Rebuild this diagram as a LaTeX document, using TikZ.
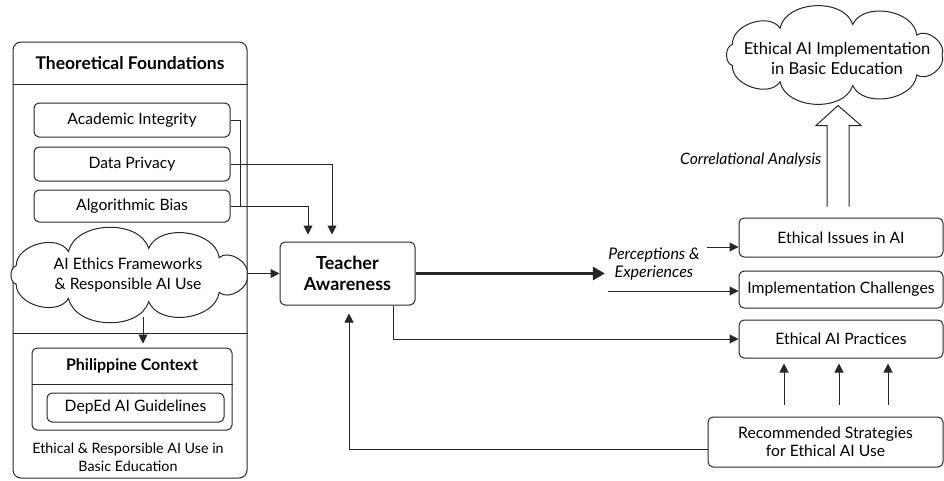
\documentclass[tikz,border=0pt]{standalone}
\usepackage{fontspec}
\setmainfont{Lato}
\usetikzlibrary{arrows.meta,calc}
\newcommand\puffcloud[5]{% cx, cy, rx, ry, n
  \draw[ln, fill=white] ({#1+#3},{#2})
    \foreach \i in {1,...,#5} { to[bend left=75] ({#1+#3*cos(360*\i/#5)},{#2+#4*sin(360*\i/#5)}) } -- cycle;
}
\begin{document}
\begin{tikzpicture}[x=1pt,y=-1pt,
  font=\fontsize{15.7}{18}\selectfont,
  box/.style={draw=black!85, line width=1pt, rounded corners=5pt, align=center, inner sep=0pt},
  arr/.style={line width=1pt, draw=black!85, -{Triangle[length=9pt,width=9pt]}},
  ln/.style={line width=1pt, draw=black!85},
  cloudtext/.style={align=center, inner sep=0pt}
]
\useasboundingbox (0,0) rectangle (944,480);
% left container
\node[box, minimum width=234pt, minimum height=436pt, rounded corners=8pt] (outer) at (130,260) {};
\draw[ln] (outer.west |- 0,84) -- (outer.east |- 0,84);
\draw[ln] (outer.west |- 0,333) -- (outer.east |- 0,333);
\node[font=\fontsize{17.5}{20}\selectfont\bfseries] (theo) at (130,63) {Theoretical Foundations};
\node[box, minimum width=196pt, minimum height=34pt] (acad) at (132,120) {Academic Integrity};
\node[box, minimum width=196pt, minimum height=34pt] (priv) at (132,164) {Data Privacy};
\node[box, minimum width=196pt, minimum height=32pt] (bias) at (132,206) {Algorithmic Bias};
\puffcloud{128}{275}{119}{27}{9}
\node[cloudtext, minimum width=240pt, minimum height=84pt, font=\fontsize{15.7}{20}\selectfont] (fw) at (128,275) {AI Ethics Frameworks\\ \& Responsible AI Use};
\node[box, minimum width=200pt, minimum height=82pt] (phil) at (132,389) {};
\draw[ln] (phil.west |- 0,384) -- (phil.east |- 0,384);
\node[font=\fontsize{16}{19}\selectfont\bfseries] (philt) at (132,366) {Philippine Context};
\node[box, minimum width=177pt, minimum height=29pt] (deped) at (135.5,407.5) {DepEd AI Guidelines};
\node[align=center, font=\fontsize{14.3}{18}\selectfont] (basic) at (128,457) {Ethical \& Resporsible AI Use in\\Basic Education};
% teacher
\node[box, minimum width=135pt, minimum height=63pt, font=\fontsize{18}{20.5}\selectfont\bfseries] (teach) at (347.5,273.5) {Teacher\\Awareness};
% right
\node[align=center, font=\fontsize{16}{18}\selectfont\itshape] (perc) at (654,264) {Perceptions \&\\Experiences};
\node[box, minimum width=204pt, minimum height=39pt] (issues) at (841,237.5) {Ethical Issues in AI};
\node[box, minimum width=204pt, minimum height=37pt] (impl) at (841,289.5) {Implementation Challenges};
\node[box, minimum width=204pt, minimum height=38pt] (pract) at (841,339) {Ethical AI Practices};
\node[box, minimum width=235pt, minimum height=50pt] (rec) at (825.5,442) {Recommended Strategies\\for Ethical AI Use};
\puffcloud{834}{55}{108}{31}{9}
\node[cloudtext, minimum width=226pt, minimum height=92pt, font=\fontsize{16.5}{20}\selectfont] (impc) at (837,58) {Ethical AI Implementation\\in Basic Education};
\node[anchor=east, font=\fontsize{15.7}{18}\selectfont\itshape] (corr) at (825,160) {Correlational Analysis};
% connectors left
\draw[ln] (acad.east) -- ++(10,0) coordinate (j1) -- (j1 |- bias.east);
\draw[arr, shorten >=7pt] (priv.east) -| ([xshift=-15.5]teach.north);
\draw[arr, shorten >=7pt] (bias.east) -| ([xshift=-39.5]teach.north);
\draw[arr] (fw.east |- teach.west) -- (teach.west);
\coordinate (ax) at (143,0);
\draw[arr, shorten >=4pt] (fw.south -| ax) -- (phil.north -| ax);
% teacher outputs
\draw[line width=3pt, draw=black!85, -{Triangle[length=12pt,width=13pt]}] (teach.east) -- (perc.west |- teach.east);
\draw[arr] ([xshift=45.5]teach.south) |- (pract.west);
\draw[arr, shorten >=8pt] ([yshift=-7]rec.west) -| ([xshift=1.5]teach.south);
\coordinate (p1) at (707,247);
\coordinate (p2) at (608,291);
\draw[arr] (p1) -- (p1 -| issues.west);
\draw[arr] (p2) -- (p2 -| impl.west);
\foreach \xx in {784,839,888}
  \draw[arr, shorten <=12pt, shorten >=5pt] (rec.north -| \xx,0) -- (pract.south -| \xx,0);
% hollow arrow
\coordinate (ha) at ($(issues.north)+(-3,-11)$);
\draw[ln, line join=miter] ($(ha)+(-11,0)$) -- ($(ha)+(-11,-81)$) -- ($(ha)+(-22,-81)$) -- ($(ha)+(0,-101)$) -- ($(ha)+(23,-81)$) -- ($(ha)+(11,-81)$) -- ($(ha)+(11,0)$);
\end{tikzpicture}
\end{document}
